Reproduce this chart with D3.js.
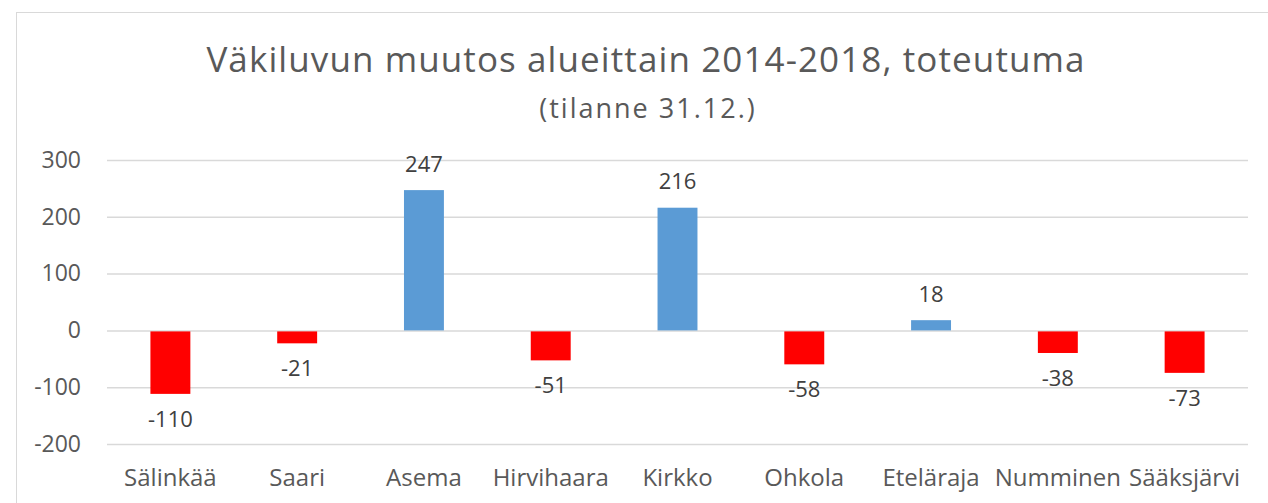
<!DOCTYPE html>
<html>
<head>
<meta charset="utf-8">
<script src="https://cdn.jsdelivr.net/npm/d3@7"></script>
<style>
  body { margin: 0; background: #ffffff; }
  svg { display: block; }
</style>
</head>
<body>
<script>
// -----------------------------
// Data
// -----------------------------
const AREAS = ["Sälinkää", "Saari", "Asema", "Hirvihaara", "Kirkko", "Ohkola", "Eteläraja", "Numminen", "Sääksjärvi"];
const CHANGES = [-110, -21, 247, -51, 216, -58, 18, -38, -73];
const Y_TICKS = [-200, -100, 0, 100, 200, 300];
const TITLE = "Väkiluvun muutos alueittain 2014-2018, toteutuma";
const SUBTITLE = "(tilanne 31.12.)";

// -----------------------------
// SVG Setup
// -----------------------------
const WIDTH = 1268;
const HEIGHT = 503;
const MARGIN = { top: 160, right: 20, bottom: 59, left: 107 };
const FONT = "Open Sans";

const svg = d3.select("body")
  .append("svg")
  .attr("width", WIDTH)
  .attr("height", HEIGHT);

// Chart frame (runs off the right and bottom edge)
svg.append("rect")
  .attr("x", 16.5)
  .attr("y", 12.5)
  .attr("width", WIDTH)
  .attr("height", HEIGHT)
  .attr("fill", "white")
  .attr("stroke", "#d9d9d9")
  .attr("stroke-width", 1);

// Titles
svg.append("text")
  .attr("x", 646)
  .attr("y", 72)
  .attr("text-anchor", "middle")
  .attr("font-family", FONT)
  .attr("font-size", 35)
  .attr("letter-spacing", 1.1)
  .attr("fill", "#595959")
  .text(TITLE);

svg.append("text")
  .attr("x", 648)
  .attr("y", 118)
  .attr("text-anchor", "middle")
  .attr("font-family", FONT)
  .attr("font-size", 27)
  .attr("letter-spacing", 2)
  .attr("fill", "#595959")
  .text(SUBTITLE);

// -----------------------------
// Scales
// -----------------------------
const x = d3.scaleBand()
  .domain(AREAS)
  .range([MARGIN.left, WIDTH - MARGIN.right])
  .paddingInner(0.685)
  .paddingOuter(0.3425);

const y = d3.scaleLinear()
  .domain([-200, 300])
  .range([HEIGHT - MARGIN.bottom, MARGIN.top]);

// -----------------------------
// Grid and axes
// -----------------------------
const grid = svg.append("g")
  .attr("transform", `translate(${MARGIN.left},0)`)
  .call(d3.axisLeft(y)
    .tickValues(Y_TICKS)
    .tickSize(-(WIDTH - MARGIN.right - MARGIN.left))
    .tickFormat(d => String(d))
    .tickPadding(26));

grid.select(".domain").remove();
grid.selectAll(".tick line")
  .attr("stroke", "#d9d9d9")
  .attr("stroke-width", 1.5);
grid.selectAll(".tick text")
  .attr("font-family", FONT)
  .attr("font-size", 23)
  .attr("fill", "#595959");

const xAxis = svg.append("g")
  .attr("transform", `translate(0,${HEIGHT - MARGIN.bottom})`)
  .call(d3.axisBottom(x).tickSize(0).tickPadding(25));

xAxis.select(".domain").remove();
xAxis.selectAll(".tick text")
  .attr("font-family", FONT)
  .attr("font-size", 24)
  .attr("fill", "#595959");

// -----------------------------
// Bars and labels
// -----------------------------
const rows = AREAS.map((area, i) => ({ area, value: CHANGES[i] }));

svg.append("g")
  .selectAll("rect")
  .data(rows)
  .join("rect")
  .attr("x", d => x(d.area))
  .attr("width", x.bandwidth())
  .attr("y", d => d.value >= 0 ? y(d.value) : y(0) + 1)
  .attr("height", d => Math.abs(y(d.value) - y(0)))
  .attr("fill", d => d.value >= 0 ? "#5b9bd5" : "#ff0000");

svg.append("g")
  .selectAll("text")
  .data(rows)
  .join("text")
  .attr("x", d => x(d.area) + x.bandwidth() / 2)
  .attr("y", d => d.value >= 0 ? y(d.value) - 18.5 : y(d.value) + 34)
  .attr("text-anchor", "middle")
  .attr("font-family", FONT)
  .attr("font-size", 22)
  .attr("fill", "#404040")
  .text(d => d.value);
</script>
</body>
</html>
